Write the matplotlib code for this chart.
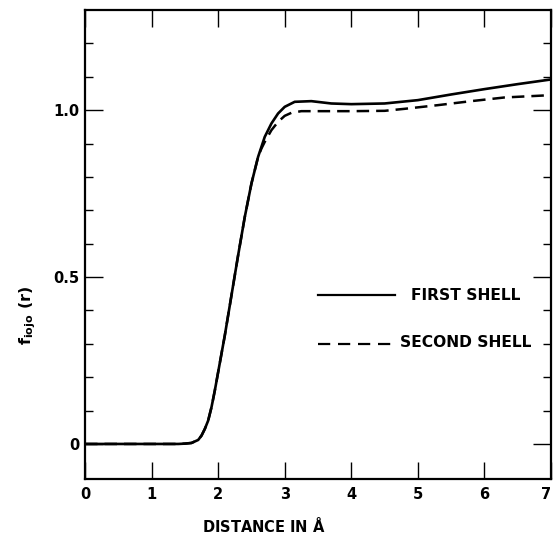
'''
    Pair function f_iojo(r) for first and second shell
'''
import matplotlib.pyplot as plt
from matplotlib.ticker import FixedLocator

# values
r_first = [0.0, 1.4, 1.5, 1.6, 1.7, 1.75, 1.8, 1.85, 1.9, 1.95, 2.0, 2.1, 2.2, 2.3, 2.4,
           2.5, 2.6, 2.7, 2.8, 2.9, 3.0, 3.15, 3.4, 3.7, 4.0, 4.5, 5.0, 5.5, 6.0, 6.5, 7.0]
f_first = [0.0, 0.0, 0.001, 0.003, 0.012, 0.025, 0.045, 0.07, 0.11, 0.16, 0.215, 0.325, 0.445,
           0.565, 0.68, 0.78, 0.86, 0.92, 0.96, 0.99, 1.01, 1.025, 1.027, 1.02, 1.018, 1.02,
           1.03, 1.047, 1.063, 1.078, 1.092]

r_second = [2.6, 2.65, 2.7, 2.8, 2.9, 3.0, 3.1, 3.25, 3.6, 4.0, 4.5, 4.8, 5.3, 5.8, 6.3, 7.0]
f_second = [0.86, 0.885, 0.905, 0.94, 0.965, 0.983, 0.992, 0.997, 0.997, 0.997, 0.998, 1.004,
            1.015, 1.027, 1.038, 1.045]

x_ticks = [0, 1, 2, 3, 4, 5, 6, 7]
y_ticks = [0, 0.5, 1.0]
y_ticklabels = ['0', '0.5', '1.0']
y_minor = [0.1, 0.2, 0.3, 0.4, 0.6, 0.7, 0.8, 0.9, 1.1, 1.2]

plt.rcParams['font.family'] = 'DejaVu Sans'
plt.rcParams['font.weight'] = 'bold'
plt.rcParams['mathtext.fontset'] = 'dejavusans'

fig = plt.figure(figsize=(5.53, 5.33), dpi=100)
ax = fig.add_axes([0.1537, 0.1013, 0.8427, 0.8799])

# second shell follows the first one below ~2.6 A
r_second_full = [r for r in r_first if r < r_second[0]] + r_second
f_second_full = [f for r, f in zip(r_first, f_first) if r < r_second[0]] + f_second

ax.plot(r_second_full, f_second_full, color='black', lw=1.8, dashes=(5, 2.8))
ax.plot(r_first, f_first, color='black', lw=1.9, solid_joinstyle='round')

ax.set_xlim(0, 7)
ax.set_ylim(-0.105, 1.30)

ax.set_xticks(x_ticks)
ax.set_yticks(y_ticks)
ax.set_yticklabels(y_ticklabels)
ax.yaxis.set_minor_locator(FixedLocator(y_minor))

ax.tick_params(axis='x', which='major', direction='in', length=12.5, width=1.0,
               top=True, bottom=True, labelsize=10.5, pad=6)
ax.tick_params(axis='y', which='major', direction='in', length=13, width=1.0,
               left=True, right=True, labelsize=10.5, pad=4)
ax.tick_params(axis='y', which='minor', direction='in', length=6, width=1.0,
               left=True, right=True)
# last x label sits right at the edge of the figure
ax.get_xticklabels()[-1].set_horizontalalignment('right')
for spine in ax.spines.values():
    spine.set_linewidth(1.6)

# legend drawn by hand like the original lettering
ax.plot([3.5, 4.65], [0.446, 0.446], color='black', lw=1.6)
ax.text(4.9, 0.446, 'FIRST SHELL', fontsize=11.2, fontweight='bold', va='center', ha='left')
ax.plot([3.5, 4.65], [0.30, 0.30], color='black', lw=1.6, dashes=(5.5, 3.5))
ax.text(4.73, 0.305, 'SECOND SHELL', fontsize=11.2, fontweight='bold', va='center', ha='left')

fig.text(264 / 553, 1 - 525 / 533, r'DISTANCE IN $\mathbf{\AA}$', fontsize=10.5,
         fontweight='bold', ha='center', va='center')
fig.text(28 / 553, 1 - 315 / 533, r'$\mathbf{f_{iojo}}$ (r)', fontsize=11.5,
         fontweight='bold', ha='center', va='center', rotation=90)

fig.savefig('out.png', dpi=100)
